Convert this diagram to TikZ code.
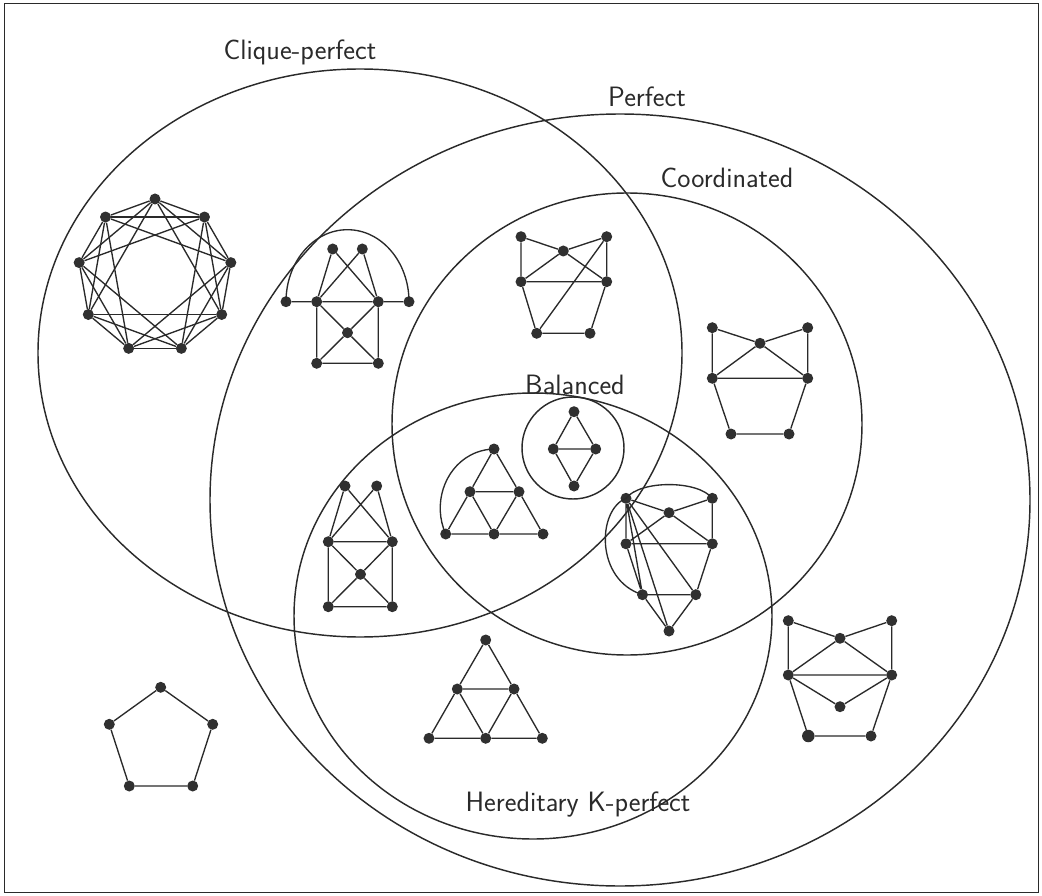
\documentclass[tikz,border=0pt]{standalone}
\definecolor{ink}{HTML}{2A2A2A}
\definecolor{dot}{HTML}{303030}
\begin{document}
\begin{tikzpicture}[x=1pt,y=-1pt,
  v/.style={circle,fill=dot,inner sep=0pt,minimum size=11pt},
  e/.style={draw=ink,line width=1.35pt},
  setc/.style={draw=ink,line width=1.45pt},
  lab/.style={font=\sffamily\fontsize{28}{32}\selectfont,text=ink}]
\useasboundingbox (0,0) rectangle (1042,896);
\draw[setc,line width=1pt] (4,4) rectangle (1038,892);
% sets
\draw[setc] (360,353) ellipse [x radius=322pt, y radius=284pt];
\draw[setc] (620,500) ellipse [x radius=410pt, y radius=386pt];
\draw[setc] (627,424) ellipse [x radius=235pt, y radius=231pt];
\draw[setc] (533,616) ellipse [x radius=239pt, y radius=223pt];
\draw[setc] (573,448) circle [radius=51pt];
\node[lab] (lcp) at (300,52) {Clique-perfect};
\node[lab] (lp) at (647,97) {Perfect};
\node[lab] (lco) at (727,178) {Coordinated};
\node[lab] (lb) at (575,385) {Balanced};
\node[lab] (lh) at (578,805) {Hereditary K-perfect};
% graph 1: complement of C9
\foreach \i in {0,...,8}
  \node[v] (h\i) at ({155+77*cos(90-40*\i)},{276-77*sin(90-40*\i)}) {};
\foreach \i in {0,...,8}
  \foreach \d in {1,2,3}{
    \pgfmathtruncatemacro\j{mod(\i+\d,9)}
    \draw[e] (h\i) -- (h\j);
  }
% graph 2
\node[v] (a1) at (332.7,249) {};
\node[v] (a2) at (362.3,249) {};
\node[v] (al) at (286,301.7) {};
\node[v] (am1) at (316.7,301.7) {};
\node[v] (am2) at (378.3,301.7) {};
\node[v] (ar) at (409,301.7) {};
\node[v] (ac) at (347.5,332.7) {};
\node[v] (ab1) at (316.7,363.3) {};
\node[v] (ab2) at (378.3,363.3) {};
\draw[e] (a1)--(am1) (a1)--(am2) (a2)--(am1) (a2)--(am2) (al)--(am1) (am1)--(am2) (am2)--(ar)
  (am1)--(ac) (am2)--(ac) (am1)--(ab1) (am2)--(ab2) (ab1)--(ac) (ab2)--(ac) (ab1)--(ab2);
\draw[e] (al.center) arc[start angle=180,end angle=0,x radius=61.5pt,y radius=72pt];
% graph 3
\node[v] (btl) at (521,236.7) {};
\node[v] (btr) at (606.7,236.7) {};
\node[v] (bc) at (563.3,251) {};
\node[v] (bml) at (521,281.7) {};
\node[v] (bmr) at (606.7,281.7) {};
\node[v] (bbl) at (536.7,333.3) {};
\node[v] (bbr) at (590,333.3) {};
\draw[e] (btl)--(bc) (bc)--(btr) (btl)--(bml) (btr)--(bmr) (bc)--(bml) (bc)--(bmr) (bml)--(bmr)
  (bml)--(bbl) (bmr)--(bbr) (bbl)--(bbr) (btr)--(bbl);
% graph 4
\node[v] (ctl) at (712.3,327.7) {};
\node[v] (ctr) at (807.7,327.7) {};
\node[v] (cc) at (760,343.3) {};
\node[v] (cml) at (712.3,378.3) {};
\node[v] (cmr) at (807.7,378.3) {};
\node[v] (cbl) at (731,434) {};
\node[v] (cbr) at (789,434) {};
\draw[e] (ctl)--(cc) (cc)--(ctr) (ctl)--(cml) (ctr)--(cmr) (cc)--(cml) (cc)--(cmr) (cml)--(cmr)
  (cml)--(cbl) (cmr)--(cbr) (cbl)--(cbr);
% graph 5 (balanced)
\node[v] (dt) at (574,411.7) {};
\node[v] (dl) at (553.3,449) {};
\node[v] (dr) at (595.7,449) {};
\node[v] (db) at (574,486) {};
\draw[e] (dt)--(dl) (dt)--(dr) (dl)--(dr) (dl)--(db) (dr)--(db);
% graph 6
\node[v] (et) at (494,449) {};
\node[v] (eml) at (470,491.7) {};
\node[v] (emr) at (519,491.7) {};
\node[v] (ebl) at (445.7,534) {};
\node[v] (ebm) at (494,534) {};
\node[v] (ebr) at (543,534) {};
\draw[e] (et)--(eml) (et)--(emr) (eml)--(emr) (eml)--(ebl) (eml)--(ebm) (emr)--(ebm) (emr)--(ebr)
  (ebl)--(ebm) (ebm)--(ebr);
\draw[e] (ebl.center) arc[start angle=206,end angle=90,x radius=54pt,y radius=59pt];
% graph 7
\node[v] (ftl) at (626,498.3) {};
\node[v] (ftr) at (712.3,498.3) {};
\node[v] (fc) at (669,512.7) {};
\node[v] (fml) at (626,543.8) {};
\node[v] (fmr) at (712.3,543.8) {};
\node[v] (fbl) at (642.5,594.7) {};
\node[v] (fbr) at (695.8,594.7) {};
\node[v] (fbot) at (669,631) {};
\draw[e] (ftl)--(fc) (fc)--(ftr) (ftl)--(fml) (ftr)--(fmr) (fc)--(fml) (fc)--(fmr) (fml)--(fmr)
  (fml)--(fbl) (fmr)--(fbr) (fbl)--(fbr) (fbl)--(fbot) (fbr)--(fbot)
  (ftl)--(fbr) (ftl)--(fbot) (ftl)--(fbl);
\draw[e] (ftl.center) .. controls (640,480) and (698,480) .. (ftr.center);
\draw[e] (ftl.center) .. controls (597,510) and (595,580) .. (fbl.center);
% graph 8
\node[v] (ga1) at (345,486) {};
\node[v] (ga2) at (376.7,486) {};
\node[v] (gm1) at (328.3,541.7) {};
\node[v] (gm2) at (392.3,541.7) {};
\node[v] (gc) at (360.5,574.3) {};
\node[v] (gb1) at (328.3,606.7) {};
\node[v] (gb2) at (392.3,606.7) {};
\draw[e] (ga1)--(gm1) (ga1)--(gm2) (ga2)--(gm1) (ga2)--(gm2) (gm1)--(gm2)
  (gm1)--(gc) (gm2)--(gc) (gm1)--(gb1) (gm2)--(gb2) (gb1)--(gc) (gb2)--(gc) (gb1)--(gb2);
% graph 9
\node[v] (ht) at (485.7,640) {};
\node[v] (hml) at (457.3,689) {};
\node[v] (hmr) at (514,689) {};
\node[v] (hbl) at (429,738.3) {};
\node[v] (hbm) at (485.7,738.3) {};
\node[v] (hbr) at (542.3,738.3) {};
\draw[e] (ht)--(hml) (ht)--(hmr) (hml)--(hmr) (hml)--(hbl) (hml)--(hbm) (hmr)--(hbm) (hmr)--(hbr)
  (hbl)--(hbm) (hbm)--(hbr);
% graph 10
\node[v] (itl) at (788.3,620.7) {};
\node[v] (itr) at (891.7,620.7) {};
\node[v] (ic) at (840,638.3) {};
\node[v] (iml) at (788.3,675) {};
\node[v] (imr) at (891.7,675) {};
\node[v] (icm) at (840,706.7) {};
\node[v,minimum size=12.5pt] (ibl) at (808.3,736) {};
\node[v] (ibr) at (871,736) {};
\draw[e] (itl)--(ic) (ic)--(itr) (itl)--(iml) (itr)--(imr) (ic)--(iml) (ic)--(imr) (iml)--(imr)
  (iml)--(icm) (imr)--(icm) (iml)--(ibl) (imr)--(ibr) (ibl)--(ibr);
% graph 11: C5
\node[v] (jt) at (160.7,687.3) {};
\node[v] (jl) at (109.3,724.3) {};
\node[v] (jr) at (212.7,724.3) {};
\node[v] (jbl) at (129.3,786) {};
\node[v] (jbr) at (192.7,786) {};
\draw[e] (jt)--(jl) (jt)--(jr) (jl)--(jbl) (jr)--(jbr) (jbl)--(jbr);
\end{tikzpicture}
\end{document}
